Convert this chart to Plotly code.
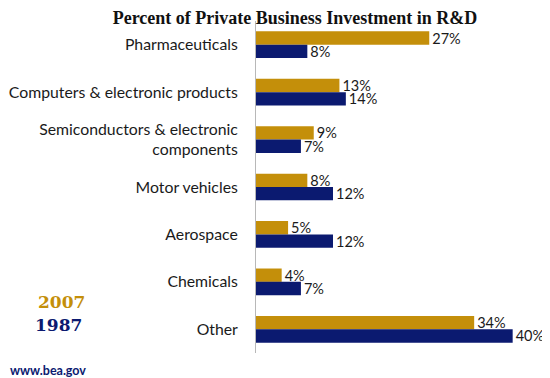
import plotly.graph_objects as go

categories = ["Pharmaceuticals", "Computers & electronic products",
              "Semiconductors & electronic<br>components", "Motor vehicles",
              "Aerospace", "Chemicals", "Other"]
values_2007 = [27, 13, 9, 8, 5, 4, 34]
values_1987 = [8, 14, 7, 12, 12, 7, 40]
series_names = ["2007", "1987"]

GOLD = "#C48F0A"
NAVY = "#0B1A70"

fig = go.Figure()
for name, vals, col in [(series_names[0], values_2007, GOLD), (series_names[1], values_1987, NAVY)]:
    fig.add_trace(go.Bar(
        y=categories, x=vals, name=name, orientation="h",
        marker=dict(color=col, line=dict(width=0)),
        text=[f"{v}%" for v in vals], textposition="outside",
        constraintext="none",
        textfont=dict(family="Lato, Open Sans, sans-serif", size=14.5, color="#1a1a1a"),
        cliponaxis=False,
    ))

fig.update_layout(
    width=542, height=370,
    barmode="group", bargap=0.437, bargroupgap=0,
    showlegend=False,
    plot_bgcolor="white", paper_bgcolor="white",
    margin=dict(l=248, r=20, t=13, b=25),
    title=dict(text="<b>Percent of Private Business Investment in R&D</b>",
               x=0.5295, xanchor="center", y=0.9743, yanchor="middle",
               font=dict(family="Liberation Serif, serif", size=18, color="#111111")),
    xaxis=dict(range=[0, 42.7], visible=False),
    yaxis=dict(categoryorder="array", categoryarray=categories,
               range=[6.5, -0.5], showline=True, linecolor="#b8b8b8", linewidth=1,
               ticks="", ticklabelstandoff=14, showgrid=False, automargin=False,
               tickfont=dict(family="Lato, Open Sans, sans-serif", size=15.8, color="#1a1a1a")),
    font=dict(family="Lato, sans-serif"),
)

fig.add_annotation(xref="paper", yref="paper", x=-0.803, y=0.1536, xanchor="left", yanchor="middle",
                   text="<b>2007</b>", showarrow=False,
                   font=dict(family="DejaVu Serif, serif", size=17, color=GOLD))
fig.add_annotation(xref="paper", yref="paper", x=-0.814, y=0.0843, xanchor="left", yanchor="middle",
                   text="<b>1987</b>", showarrow=False,
                   font=dict(family="DejaVu Serif, serif", size=17, color=NAVY))
fig.add_annotation(xref="paper", yref="paper", x=-0.905, y=-0.0542, xanchor="left", yanchor="middle",
                   text="<b>www.bea.gov</b>", showarrow=False,
                   font=dict(family="Lato, sans-serif", size=12.5, color=NAVY))

fig.write_html("out.html")
